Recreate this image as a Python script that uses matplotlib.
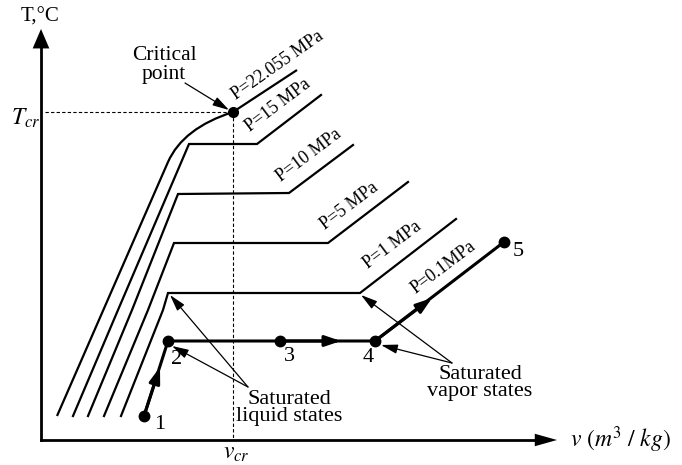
import matplotlib
matplotlib.use("Agg")
import matplotlib.pyplot as plt
from matplotlib.path import Path
from matplotlib.patches import PathPatch, FancyArrowPatch, ArrowStyle

plt.rcParams['font.family'] = ['Liberation Serif', 'DejaVu Serif']
plt.rcParams['mathtext.fontset'] = 'stix'

# schematic T-v diagram, everything in picture pixels (y grows downward)
W, H = 682, 465
origin = (41, 440)
x_axis_end = 557
y_axis_end = 29

crit = (233, 112)

# liquid branch + knee + vapour branch of every isobar
iso_labels = ['P=15 MPa', 'P=10 MPa', 'P=5 MPa', 'P=1 MPa']
iso_bottom_x = [73, 88, 104, 121]
iso_mid = [(118, 310), (132, 310), (148, 310), (163, 310)]
iso_knee = [(189, 144), (178, 194), (174, 243), (168, 293)]
iso_sat_v = [(257, 144), (289, 193), (328, 243), (360, 293)]
iso_end = [(321, 95), (353, 145), (408, 182), (456, 219)]
iso_text = [(252, 135), (283, 185), (327, 233), (370, 272)]
bottom_y = 416

# critical isotherm: straight liquid part, bend into the critical point, then on
crit_x = [57, 168, 183, 233, 297]
crit_y = [416, 162, 128, 112, 70]

# heating process at 0.1 MPa
proc_names = ['1', '2', '3', '4', '5']
proc_x = [144, 168, 280, 375, 504]
proc_y = [416, 341, 341, 341, 242]
proc_lab = [(160, 424), (177, 359), (289, 356), (368, 357), (518, 251)]
proc_arrow_tips = [(160, 367), (341, 341), (432, 298)]
proc_arrow_from = [0, 2, 3]

fig = plt.figure(figsize=(W / 100, H / 100), dpi=100)
ax = fig.add_axes([0, 0, 1, 1])
ax.set_xlim(0, W)
ax.set_ylim(H, 0)
ax.axis('off')


def arrow(p0, p1, lw=0.9, hl=1.0, hw=0.28, ms=10):
    a = FancyArrowPatch(p0, p1, arrowstyle=ArrowStyle('-|>', head_length=hl, head_width=hw),
                        mutation_scale=ms, color='k', lw=lw, shrinkA=0, shrinkB=0)
    ax.add_patch(a)


# axes with arrow heads
ax.plot([origin[0], origin[0]], [origin[1], y_axis_end + 15], color='k', lw=2)
ax.plot([origin[0], x_axis_end - 15], [origin[1], origin[1]], color='k', lw=2)
arrow((origin[0], y_axis_end + 20), (origin[0], y_axis_end), lw=0, hl=1.4, hw=0.6)
arrow((x_axis_end - 20, origin[1]), (x_axis_end, origin[1]), lw=0, hl=1.6, hw=0.45)

ax.text(40, 17, 'T,°C', fontsize=15, ha='center', va='center')
ax.text(570, 440, r'$v\ (m^3\ /\ kg)$', fontsize=17, ha='left', va='center')

# dashed guides to the critical point
ax.plot([45, crit[0]], [crit[1], crit[1]], color='k', lw=0.8, ls=(0, (3, 2)))
ax.plot([crit[0], crit[0]], [crit[1], origin[1]], color='k', lw=0.8, ls=(0, (3, 2)))
ax.text(26, 118, r'$T_{cr}$', fontsize=17, ha='center', va='center')
ax.text(236, 453, r'$v_{cr}$', fontsize=17, ha='center', va='center')

# critical isotherm
verts = list(zip(crit_x, crit_y))
codes = [Path.MOVETO, Path.LINETO, Path.CURVE3, Path.CURVE3, Path.LINETO]
ax.add_patch(PathPatch(Path(verts, codes), fc='none', ec='k', lw=1.6))
ax.plot(*crit, 'o', color='k', ms=7)
ax.text(238, 103, 'P=22.055 MPa', fontsize=13, rotation=35, rotation_mode='anchor',
        ha='left', va='bottom')

# other isobars
for i in range(len(iso_labels)):
    xs = [iso_bottom_x[i], iso_mid[i][0], iso_knee[i][0], iso_sat_v[i][0], iso_end[i][0]]
    ys = [bottom_y, iso_mid[i][1], iso_knee[i][1], iso_sat_v[i][1], iso_end[i][1]]
    ax.plot(xs, ys, color='k', lw=1.6, solid_joinstyle='miter')
    ax.text(iso_text[i][0], iso_text[i][1], iso_labels[i], fontsize=13, rotation=37,
            rotation_mode='anchor', ha='left', va='bottom')

# process 1-2-3-4-5
ax.plot(proc_x, proc_y, color='k', lw=2.2)
ax.plot(proc_x, proc_y, 'o', color='k', ms=7.5)
for name, (lx, ly) in zip(proc_names, proc_lab):
    ax.text(lx, ly, name, fontsize=16, ha='center', va='center')
for k, tip in zip(proc_arrow_from, proc_arrow_tips):
    arrow((proc_x[k], proc_y[k]), tip, lw=2.2, hl=0.95, hw=0.32)
ax.text(418, 297, 'P=0.1MPa', fontsize=13, rotation=37, rotation_mode='anchor',
        ha='left', va='bottom')

# callouts
ax.text(164, 65, 'Critical\npoint', fontsize=15.5, ha='center', va='center', linespacing=0.95)
arrow((185, 83), (229, 110))

ax.text(289, 408, 'Saturated\nliquid states', fontsize=16, ha='center', va='center',
        linespacing=0.92)
arrow((248, 387), (172, 346))
arrow((248, 387), (170, 295))

ax.text(480, 383, 'Saturated\nvapor states', fontsize=16, ha='center', va='center',
        linespacing=0.92)
arrow((452, 363), (381, 345))
arrow((452, 363), (361, 295))

fig.savefig('out.png', dpi=100)
